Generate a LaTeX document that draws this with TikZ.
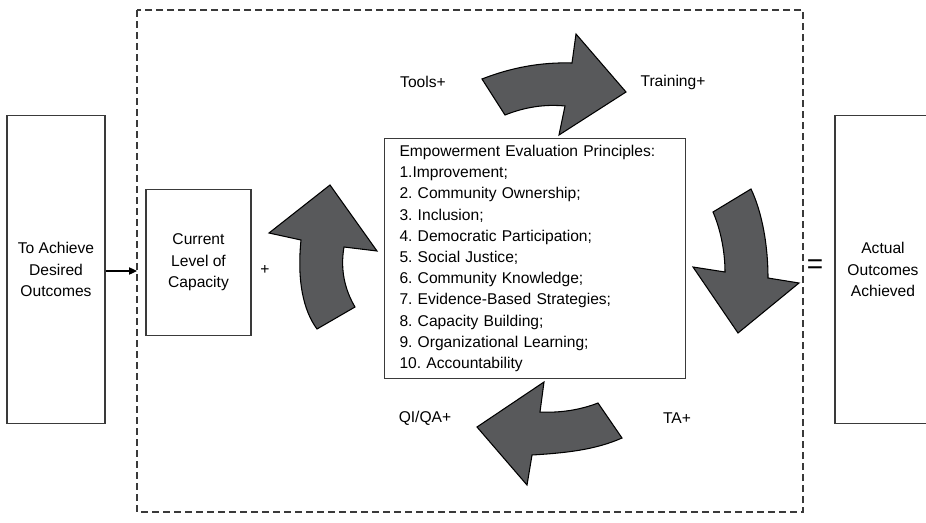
\documentclass[tikz,border=0pt]{standalone}
\usepackage{fontspec}
\setmainfont{Liberation Sans}
\frenchspacing
\usetikzlibrary{arrows.meta}
\definecolor{arrowfill}{HTML}{58595B}
\definecolor{lineg}{HTML}{3A3A3A}
\tikzset{
  txt/.style={font=\fontsize{11.7}{16}\selectfont, align=center, inner sep=0pt},
  box/.style={draw=lineg, line width=0.8pt, fill=white, font=\fontsize{11.7}{16.2}\selectfont, align=center},
  bigarrow/.style={fill=arrowfill, draw=black, line width=0.8pt, line join=miter},
  frame/.style={draw=lineg, line width=0.8pt, dash pattern=on 5.25pt off 3pt}
}
\begin{document}
\begin{tikzpicture}[x=0.75pt,y=-0.75pt]
\useasboundingbox (0,0) rectangle (926,522);
\clip (0,0) rectangle (926,522);
\fill[white] (0,0) rectangle (926,522);

% dashed frame
\draw[frame] (137,10) rectangle (803,512);
\coordinate (fw) at (137,271);

% outer boxes
\node[box, minimum width=73.5pt, minimum height=231pt] (lb) at (56,269.5) {To Achieve\\Desired\\Outcomes};
\node[box, minimum width=72pt, minimum height=231pt] (rb) at (883,269.5) {Actual\\Outcomes\\Achieved};

% current capacity box
\node[box, minimum width=78.75pt, minimum height=109.5pt] (cc) at (198.5,262.5) {Current\\Level of\\Capacity};

% center box
\node[draw=lineg, line width=0.8pt, fill=white, anchor=north west, inner xsep=11.25pt, inner ysep=0pt,
      text width=203.25pt, minimum height=180pt, align=left,
      font=\fontsize{11.7}{15.9}\selectfont] (ee) at (384,138)
{Empowerment Evaluation Principles:\\
1.Improvement;\\
2. Community Ownership;\\
3. Inclusion;\\
4. Democratic Participation;\\
5. Social Justice;\\
6. Community Knowledge;\\
7. Evidence-Based Strategies;\\
8. Capacity Building;\\
9. Organizational Learning;\\
10. Accountability};

% connector
\draw[line width=0.9pt, -{Triangle[length=6pt,width=5.5pt]}] (lb.east |- fw) -- (fw);

% labels
\node[txt] (plus) at (265,270) {+};
\node[txt] (tools) at (423,82) {Tools+};
\node[txt] (train) at (673,82) {Training+};
\node[txt] (qi) at (425,418) {QI/QA+};
\node[txt] (ta) at (677,418) {TA+};
\node[inner sep=0pt, font=\fontsize{21}{21}\selectfont] (eq) at (815,267) {=};

% up arrow (left)
\draw[bigarrow] (317,329) .. controls (303,310) and (297,280) .. (301,240)
  -- (269,233) -- (330,185) -- (377,251) -- (344,247)
  .. controls (340,270) and (345,290) .. (355,307) -- cycle;

% top arrow (right)
\draw[bigarrow] (482,79) .. controls (510,68) and (540,62) .. (572,63)
  -- (576,34) -- (626,92) -- (559,135) -- (565,106)
  .. controls (545,104) and (525,107) .. (505,115) -- cycle;

% down arrow (right side)
\draw[bigarrow] (713,212) .. controls (720,228) and (725,250) .. (725,272)
  -- (693,267) -- (738,333) -- (799,283) -- (768,278)
  .. controls (768,245) and (762,212) .. (751,189) -- cycle;

% bottom arrow (left)
\draw[bigarrow] (598,403) .. controls (580,410) and (560,413) .. (540,412)
  -- (544,382) -- (477,427) -- (527,485) -- (532,455)
  .. controls (565,453) and (595,450) .. (622,438) -- cycle;
\end{tikzpicture}
\end{document}
